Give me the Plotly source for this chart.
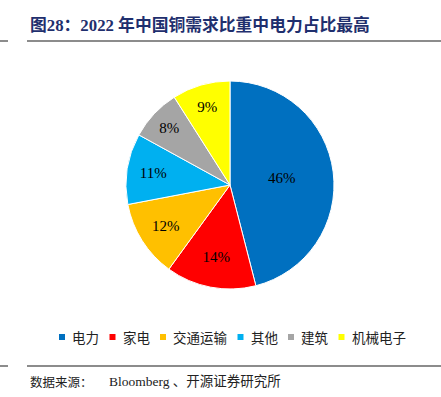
import plotly.graph_objects as go

categories = ["电力", "家电", "交通运输", "其他", "建筑", "机械电子"]
values = [46, 14, 12, 11, 8, 9]
colors = ["#0070C0", "#FF0000", "#FFC000", "#00B0F0", "#A5A5A5", "#FFFF00"]

W, H = 441, 397
cx, cy, r = 230, 185, 104

fig = go.Figure(go.Pie(
    labels=categories,
    values=values,
    marker=dict(colors=colors, line=dict(color="white", width=1)),
    sort=False,
    direction="clockwise",
    rotation=0,
    texttemplate="%{percent:.0%}",
    textposition="inside",
    insidetextorientation="horizontal",
    textfont=dict(family="Liberation Serif", size=15, color="black"),
    showlegend=False,
    hoverinfo="label+percent",
    domain=dict(x=[(cx - r) / W, (cx + r) / W], y=[1 - (cy + r) / H, 1 - (cy - r) / H]),
))

shapes = []
annotations = []
# header and footer rules
for y in (41, 366):
    shapes.append(dict(type="line", xref="paper", yref="paper", x0=0, x1=8 / W,
                       y0=1 - y / H, y1=1 - y / H, line=dict(color="#8C8C8C", width=2)))
    shapes.append(dict(type="line", xref="paper", yref="paper", x0=27 / W, x1=1,
                       y0=1 - y / H, y1=1 - y / H, line=dict(color="#8C8C8C", width=2)))

annotations.append(dict(text="<b>图28：2022 年中国铜需求比重中电力占比最高</b>",
                        xref="paper", yref="paper", x=28 / W, y=1 - 25 / H,
                        xanchor="left", yanchor="middle", showarrow=False,
                        font=dict(family="Liberation Serif, Noto Sans CJK SC", size=16.8, color="#1F2F6E")))

annotations.append(dict(text="数据来源：", xref="paper", yref="paper", x=28 / W, y=1 - 381 / H,
                        xanchor="left", yanchor="middle", showarrow=False,
                        font=dict(family="Noto Sans CJK SC", size=12.5, color="#222222")))
annotations.append(dict(text="Bloomberg 、开源证券研究所", xref="paper", yref="paper", x=107 / W, y=1 - 381 / H,
                        xanchor="left", yanchor="middle", showarrow=False,
                        font=dict(family="Liberation Serif, Noto Sans CJK SC", size=13.5, color="#222222")))

# legend built from categories
x = 59.0
ly = 337
char_w = 13.5
for cat, col in zip(categories, colors):
    shapes.append(dict(type="rect", xref="paper", yref="paper",
                       x0=x / W, x1=(x + 6) / W, y0=1 - (ly + 3) / H, y1=1 - (ly - 3) / H,
                       fillcolor=col, line=dict(width=0)))
    tx = x + 11
    annotations.append(dict(text=cat, xref="paper", yref="paper", x=tx / W, y=1 - ly / H,
                            xanchor="left", yanchor="middle", showarrow=False,
                            font=dict(family="Noto Sans CJK SC", size=13.5, color="#222222")))
    x = tx + len(cat) * char_w + 12.5

fig.update_layout(
    width=W, height=H,
    margin=dict(l=0, r=0, t=0, b=0),
    paper_bgcolor="white", plot_bgcolor="white",
    shapes=shapes, annotations=annotations,
)

fig.write_html("out.html", config={"displayModeBar": False},
               post_script="document.body.style.margin='0';document.body.style.overflow='hidden';")
